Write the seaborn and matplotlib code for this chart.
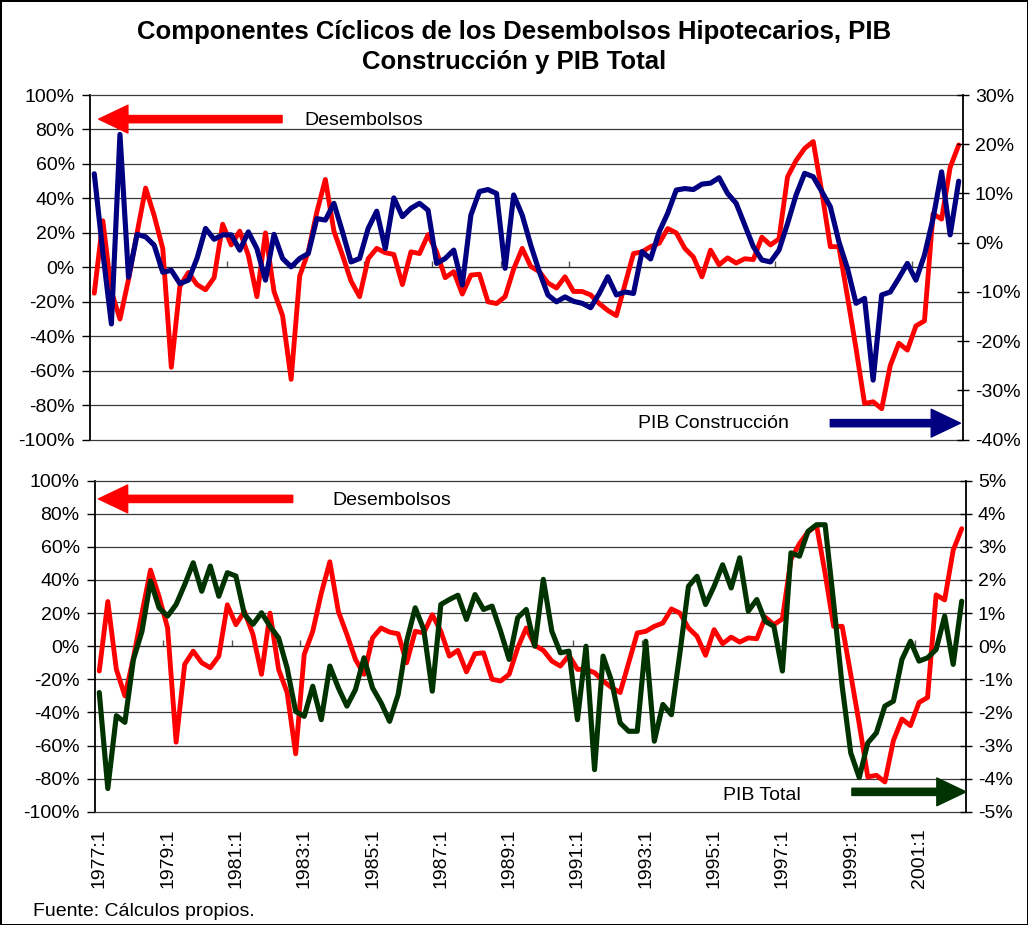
import numpy as np
import pandas as pd
import matplotlib
matplotlib.use('Agg')
import matplotlib.pyplot as plt
import seaborn as sns

# quarterly cyclical components, 1977:1 - 2002:2
quarters = [f'{y}:{q}' for y in range(1977, 2003) for q in range(1, 5)][:102]

desembolsos = [-15, 27, -14, -30, -7, 20, 46, 30, 11, -58,
               -11, -3, -10, -13, -6, 25, 13, 21, 7, -17,
               20, -14, -28, -65, -5, 9, 32, 51, 21, 7,
               -8, -17, 5, 11, 8.5, 7.5, -10, 9, 8, 19,
               9, -6, -2.5, -15.5, -4.5, -4, -20, -21, -17, -1,
               11, 0.5, -2.5, -9, -12, -5.5, -14, -14, -16, -21,
               -25, -28, -10, 8, 9, 12, 14, 22.5, 20, 11,
               6, -5.5, 10, 1.5, 5.5, 2.5, 5, 4.5, 17.5, 13,
               16.5, 52.5, 62, 69, 73, 44, 12, 12, -17, -47,
               -79, -78, -82, -57, -44, -48, -34, -31, 31, 28,
               58, 71]

pib_construccion = [14, -2, -16.5, 22, -7, 1.7, 1.2, -0.5, -6, -5.6,
                    -8.3, -7.6, -3.2, 2.9, 0.7, 1.6, 1.6, -1.5, 2.2, -1.2,
                    -7.6, 1.7, -3.2, -4.9, -3.2, -2.2, 4.9, 4.6, 8, 2.2,
                    -3.9, -3.2, 2.9, 6.4, -1.2, 9.1, 5.3, 7, 8, 6.6,
                    -4.2, -3.2, -1.5, -8.6, 5.6, 10.4, 10.8, 10, -5.2, 9.7,
                    5.6, -0.5, -5.9, -10.6, -12, -11, -11.9, -12.3, -13.2, -10.3,
                    -6.9, -10.6, -10, -10.3, -1.8, -3.3, 2.2, 6, 10.7, 11,
                    10.8, 11.9, 12.1, 13.2, 10, 8, 3.6, -0.8, -3.5, -3.9,
                    -1.5, 3.9, 9.7, 14.1, 13.4, 10.4, 7.3, 0.2, -5.2, -12.3,
                    -11.3, -27.9, -10.6, -10, -7.2, -4.2, -7.6, -2.5, 4.9, 14.4,
                    1.6, 12.5]

pib_total = [-1.4, -4.3, -2.1, -2.3, -0.4, 0.45, 1.97, 1.16, 0.91, 1.26,
             1.86, 2.52, 1.66, 2.42, 1.51, 2.22, 2.12, 0.96, 0.66, 1.01,
             0.6, 0.25, -0.66, -1.97, -2.12, -1.21, -2.22, -0.6, -1.26, -1.81,
             -1.31, -0.35, -1.26, -1.71, -2.27, -1.46, 0.15, 1.16, 0.5, -1.36,
             1.26, 1.41, 1.54, 0.81, 1.56, 1.11, 1.21, 0.45, -0.4, 0.86,
             1.11, 0.0, 2.02, 0.45, -0.2, -0.15, -2.22, 0.0, -3.73, -0.3,
             -1.06, -2.32, -2.57, -2.57, 0.15, -2.87, -1.76, -2.07, -0.2, 1.81,
             2.11, 1.26, 1.81, 2.46, 1.76, 2.67, 1.06, 1.41, 0.75, 0.6,
             -0.75, 2.82, 2.72, 3.47, 3.67, 3.67, 1.31, -1.21, -3.22, -3.97,
             -2.92, -2.62, -1.81, -1.66, -0.4, 0.15, -0.45, -0.35, -0.1, 0.91,
             -0.55, 1.36]

left_ticks = list(range(-100, 101, 20))
left_labels = [f'{v}%' for v in left_ticks]
top_right_ticks = list(range(-40, 31, 10))
bottom_right_ticks = list(range(-5, 6, 1))
year_ticks = list(range(0, 102, 8))

RED = '#FF0000'
NAVY = '#000080'
DKGREEN = '#003300'

df = pd.DataFrame({'t': range(len(quarters)), 'periodo': quarters,
                   'desembolsos': desembolsos,
                   'construccion': pib_construccion,
                   'total': pib_total})

sns.set_style('white')
plt.rcParams['font.family'] = ['Liberation Sans', 'DejaVu Sans']
plt.rcParams['text.color'] = 'black'
plt.rcParams['xtick.color'] = 'black'
plt.rcParams['ytick.color'] = 'black'
plt.rcParams['xtick.labelcolor'] = 'black'
plt.rcParams['ytick.labelcolor'] = 'black'

fig = plt.figure(figsize=(10.28, 9.25), dpi=100)
fig.patch.set_edgecolor('black')
fig.patch.set_linewidth(2)

ax1 = fig.add_axes([90 / 1028, 1 - 439.7 / 925, 873 / 1028, 344.7 / 925])
ax2 = fig.add_axes([95 / 1028, 1 - 811.7 / 925, 871 / 1028, 331 / 925])


def draw_panel(ax, col, color, rlim, rticks, name, red_arrow, name_pos, arrow_pos, txt_pos):
    sns.lineplot(data=df, x='t', y='desembolsos', ax=ax, color=RED, linewidth=3.5)
    ax.set_xlim(-0.5, len(quarters) - 0.5)
    ax.set_ylim(-100, 100)
    ax.set_yticks(left_ticks)
    ax.set_yticklabels(left_labels, fontsize=14)
    ax.tick_params(axis='y', direction='out', length=6, width=1, pad=5, left=True)
    for v in left_ticks[1:-1]:
        ax.axhline(v, color='#3a3a3a', lw=0.9, zorder=0)
    for s in ['top', 'bottom']:
        ax.spines[s].set_color('#3a3a3a')
        ax.spines[s].set_linewidth(0.9)
    ax.spines['left'].set_color('black')
    ax.spines['left'].set_linewidth(1.3)
    ax.spines['right'].set_visible(False)
    ax.set_xlabel('')
    ax.set_ylabel('')

    # category axis crossing at zero
    sec = ax.secondary_xaxis(0.5)
    sec.set_xticks([k - 0.5 for k in year_ticks[1:]])
    sec.set_xticklabels([])
    sec.tick_params(direction='out', length=4, width=1, color='#555555')
    sec.spines['bottom'].set_color('black')
    sec.spines['bottom'].set_linewidth(1.2)

    axr = ax.twinx()
    sns.lineplot(data=df, x='t', y=col, ax=axr, color=color, linewidth=3.7)
    axr.set_ylim(*rlim)
    axr.set_yticks(rticks)
    axr.set_yticklabels([f'{v}%' for v in rticks], fontsize=14)
    axr.tick_params(axis='y', direction='inout', length=9, width=1, pad=4, right=True)
    axr.set_ylabel('')
    for s in ['left', 'top', 'bottom']:
        axr.spines[s].set_visible(False)
    axr.spines['right'].set_color('black')
    axr.spines['right'].set_linewidth(1.3)

    # annotation arrows
    tx, tip, y = red_arrow
    ax.annotate('', xy=(tip, y), xytext=(tx, y), xycoords='axes fraction',
                arrowprops=dict(arrowstyle='simple,head_length=1.05,head_width=1.0,tail_width=0.26',
                                color=RED, mutation_scale=20, shrinkA=0, shrinkB=0))
    ax.text(name_pos[0], name_pos[1], 'Desembolsos', transform=ax.transAxes,
            fontsize=14, ha='left', va='center')
    tx, tip, y = arrow_pos
    axr.annotate('', xy=(tip, y), xytext=(tx, y), xycoords='axes fraction',
                 arrowprops=dict(arrowstyle='simple,head_length=1.05,head_width=1.0,tail_width=0.26',
                                 color=color, mutation_scale=20, shrinkA=0, shrinkB=0))
    axr.text(txt_pos[0], txt_pos[1], name, transform=axr.transAxes,
             fontsize=14, ha='left', va='center')
    return axr


r1 = draw_panel(ax1, 'construccion', NAVY, (-40, 30), top_right_ticks, 'PIB Construcción',
                (0.22, 0.010, 0.930), (0.246, 0.927), (0.848, 0.997, 0.048), (0.628, 0.048))
r2 = draw_panel(ax2, 'total', DKGREEN, (-5, 5), bottom_right_ticks, 'PIB Total',
                (0.227, 0.004, 0.945), (0.273, 0.939), (0.869, 1.0, 0.060), (0.7206, 0.050))

ax1.set_xticks([])
ax2.set_xticks(year_ticks)
ax2.set_xticklabels([quarters[k] for k in year_ticks], rotation=90, fontsize=14)
ax2.tick_params(axis='x', length=0, pad=12)

fig.text(0.5, 1 - 47 / 925,
         'Componentes Cíclicos de los Desembolsos Hipotecarios, PIB\nConstrucción y PIB Total',
         ha='center', va='center', fontsize=18.5, fontweight='bold', linespacing=1.3)
fig.text(33 / 1028, 1 - 912 / 925, 'Fuente: Cálculos propios.', fontsize=14,
         ha='left', va='center')

fig.savefig('out.png', dpi=100, edgecolor=fig.get_edgecolor())
